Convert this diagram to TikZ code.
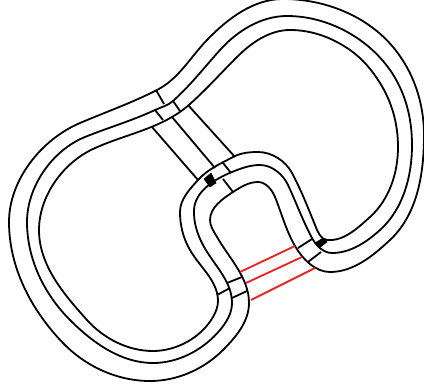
\documentclass[tikz,border=0pt]{standalone}
\usepackage{xcolor}
\definecolor{railred}{RGB}{240,30,30}
% one closed line: start x, start y, start heading, then x/y/heading
\newcommand{\railloop}[4]{%
  \draw[rail] (#1,-#2) foreach \px/\py/\ang [remember=\ang as \lastang (initially #3),
    evaluate=\ang as \inang using \ang+180] in {#4} { to[out=\lastang,in=\inang,looseness=0.88] (\px,-\py) };}
\begin{document}
\begin{tikzpicture}[x=0.75pt,y=0.75pt,
  rail/.style={line width=1.35pt,line join=round},
  tie/.style={draw,line width=1.35pt},
  redtie/.style={draw=railred,line width=1.35pt},
  block/.style={fill=black,draw=black,line width=0.4pt}]
  \useasboundingbox (0,-388) rectangle (424,0);
  % Outer line, round both lobes and the hole
  \railloop{157}{90}{207}{80/123/203, 9/222/270, 63/343/-46, 150/381/0, 223/350/45, 249/303/90,
    217/237/120, 210/220/90, 233/192/33, 258/182/0, 275/197/-68, 295/246/-60, 330/272/0,
    390/240/43, 424/135/90, 393/47/130, 283/-1/180, 207/40/226, 157/90/207}
  % Middle line
  \railloop{155}{110}{205}{85/137/202, 27/222/270, 70/320/-45, 153/363/0, 220/330/50, 232/303/90,
    203/245/118, 194/210/88, 232/172/22, 260/165/0, 288/185/-65, 312/238/-62, 332/253/0,
    380/230/42, 412/145/90, 390/70/125, 287/16/180, 220/50/228, 173/101/222, 155/110/205}
  % Inner line
  \railloop{172}{117}{210}{93/149/205, 39/230/270, 87/320/-48, 153/351/0, 213/317/60, 218/300/92,
    190/250/120, 180/212/90, 198/180/48, 233/157/28, 258/152/0, 292/173/-62, 315/225/-68,
    327/240/-5, 370/217/42, 398/147/90, 380/83/122, 350/50/145, 290/30/180, 237/57/225,
    190/104/222, 172/117/210}
  % Neck lines
  \draw[tie] (152,-127) -- (198,-180);
  \draw[tie] (172,-117) -- (215,-168);
  \draw[tie] (188,-105) -- (235,-157);
  % Ties at the neck ends
  \draw[tie] (156,-90) -- (164,-104);
  \draw[tie] (155,-110) -- (163,-120);
  \draw[tie] (173,-101) -- (180,-111);
  \draw[tie] (223,-163) -- (231,-173);
  \draw[tie] (223,-179) -- (233,-192);
  % Ties at the bottom
  \draw[tie] (227,-283) -- (242,-277);
  \draw[tie] (217,-295) -- (230,-288);
  \draw[tie] (232,-298) -- (247,-291);
  \draw[tie] (298,-248) -- (312,-239);
  \draw[tie] (308,-262) -- (321,-252);
  % Black blocks
  \fill[block] (204,-179) -- (211,-173) -- (216,-183) -- (210,-187) -- cycle;
  \fill[block] (315,-243) -- (323,-238) -- (327,-242) -- (319,-248) -- cycle;
  % Red ties
  \draw[redtie] (240,-272) -- (295,-246);
  \draw[redtie] (246,-283) -- (302,-257);
  \draw[redtie] (251,-300) -- (315,-268);
\end{tikzpicture}
\end{document}
